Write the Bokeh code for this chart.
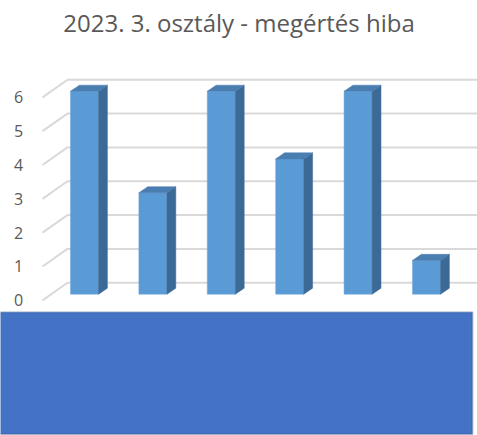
from bokeh.plotting import figure
from bokeh.models import Range1d, BoxAnnotation
from bokeh.embed import file_html
from bokeh.resources import INLINE
from bokeh.core.properties import value
import numpy as np

# ---- data ----
title_text = "2023. 3. osztály - megértés hiba"
categories = ["1.", "2.", "3.", "4.", "5.", "6."]
values = [6, 3, 6, 4, 6, 1]
y_ticks = [0, 1, 2, 3, 4, 5, 6]

# ---- style / geometry (in data units) ----
half_w = 0.205      # half bar width (category units)
dx, dy = 0.13, 0.18  # 3D depth offset
front_off, back_off = -0.18, 0.34
x_front, x_back = -0.614, -0.249
x_right = 10.0

p = figure(width=477, height=435, output_backend="svg", toolbar_location=None,
           x_range=Range1d(-1.228, 5.746), y_range=Range1d(-4.176, 7.471),
           min_border_left=0, min_border_right=0, min_border_top=0, min_border_bottom=0)
p.title.text = title_text
p.title.align = "center"
p.title.text_font = "Open Sans"
p.title.text_font_size = "24px"
p.title.text_font_style = "normal"
p.title.text_color = "#595959"
p.title.standoff = 6
p.title.text_line_height = 0.8
p.axis.visible = False
p.grid.visible = False
p.outline_line_color = None

xs = np.arange(len(values))
vals = np.array(values, dtype=float)

# gridlines (3D: diagonal on left wall + back line)
for t in y_ticks:
    p.line([x_front, x_back, x_right], [t + front_off, t + back_off, t + back_off],
           line_color="#D9D9D9", line_width=2)

# y tick labels
p.text(x=[-0.965] * len(y_ticks), y=[t + front_off for t in y_ticks],
       text=[str(t) for t in y_ticks], text_align="center", text_baseline="middle",
       text_font=value("Open Sans"), text_font_size="16px", text_color="#595959")

# bars: front faces
p.quad(left=xs - half_w, right=xs + half_w, bottom=0, top=vals,
       fill_color="#5B9BD5", line_color="#6FA8DC", line_width=0.5)
# side faces
side_xs = [[x + half_w, x + half_w + dx, x + half_w + dx, x + half_w] for x in xs]
side_ys = [[0, dy, v + dy, v] for v in vals]
p.patches(side_xs, side_ys, fill_color="#3C6A96", line_color="#3C6A96", line_width=0.5)
# top faces
top_xs = [[x - half_w, x - half_w + dx, x + half_w + dx, x + half_w] for x in xs]
top_ys = [[v, v + dy, v + dy, v] for v in vals]
p.patches(top_xs, top_ys, fill_color="#4A7DB0", line_color="#4A7DB0", line_width=0.5)

# overlay blue box (covers category labels)
p.add_layout(BoxAnnotation(left=-3, right=5.673, top=-0.53, bottom=-4.14,
                           fill_color="#4472C4", fill_alpha=1.0,
                           line_color="#2F528F", line_width=2))

open("out.html", "w").write(file_html(p, INLINE))
